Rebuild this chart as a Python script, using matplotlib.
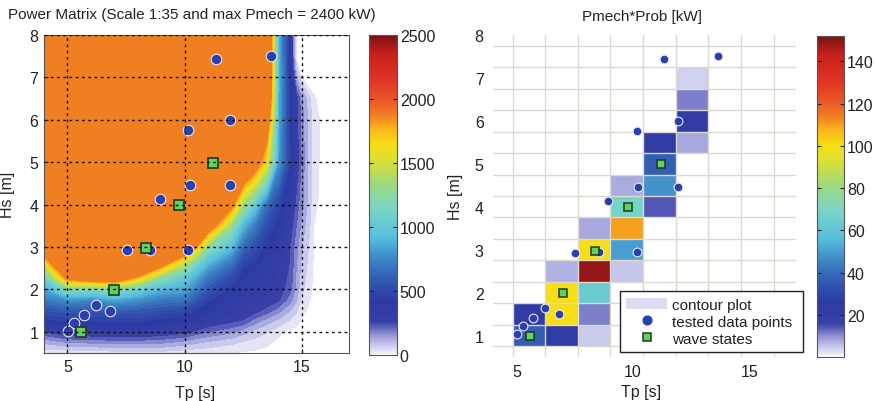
import numpy as np
import matplotlib
matplotlib.use("Agg")
import matplotlib.pyplot as plt
from matplotlib.colors import LinearSegmentedColormap, Normalize
from matplotlib.cm import ScalarMappable
from matplotlib.patches import Patch
from matplotlib.lines import Line2D

plt.rcParams['font.family'] = ['Liberation Sans', 'DejaVu Sans']

# ---------------- data: power matrix (kW) ----------------
tp_grid = [4, 5, 6, 7, 8, 9, 10, 11, 12, 12.5, 13, 13.5, 14, 14.5, 14.75, 15, 15.5, 16, 17]
hs_grid = [0.5, 0.75, 1.0, 1.25, 1.5, 1.75, 2.0, 2.25, 2.5, 2.75, 3.0, 3.5, 4.0, 5.0, 6.0, 6.5, 7.0, 7.5, 8.0]
power_matrix = [
    [15, 10, 15, 25, 30, 30, 15, 10, 10, 5, 3, 2, 0, 0, 0, 0, 0, 0, 0],
    [110, 150, 160, 170, 170, 160, 130, 90, 60, 45, 30, 15, 5, 0, 0, 0, 0, 0, 0],
    [250, 300, 310, 320, 320, 300, 270, 200, 160, 120, 80, 55, 15, 0, 0, 0, 0, 0, 0],
    [420, 450, 440, 460, 450, 420, 380, 300, 260, 240, 170, 120, 80, 40, 20, 5, 0, 0, 0],
    [550, 580, 560, 600, 580, 540, 500, 380, 320, 300, 270, 230, 170, 100, 60, 15, 0, 0, 0],
    [700, 780, 760, 850, 780, 700, 680, 460, 370, 330, 300, 290, 255, 170, 110, 30, 0, 0, 0],
    [850, 1200, 1150, 1250, 1050, 900, 850, 560, 420, 360, 330, 310, 280, 215, 130, 60, 0, 0, 0],
    [1000, 1880, 2050, 2100, 1700, 1200, 1000, 680, 500, 400, 360, 330, 290, 230, 140, 70, 0, 0, 0],
    [1350, 2400, 2400, 2400, 2400, 1750, 1250, 820, 620, 450, 400, 350, 300, 240, 150, 80, 3, 0, 0],
    [1800, 2400, 2400, 2400, 2400, 2400, 1700, 1000, 760, 530, 460, 380, 320, 245, 160, 90, 5, 0, 0],
    [2400, 2400, 2400, 2400, 2400, 2400, 2400, 1250, 920, 640, 530, 420, 330, 240, 170, 100, 5, 0, 0],
    [2400, 2400, 2400, 2400, 2400, 2400, 2400, 2100, 1300, 900, 700, 520, 400, 280, 200, 130, 10, 0, 0],
    [2400, 2400, 2400, 2400, 2400, 2400, 2400, 2400, 1950, 1350, 1000, 650, 480, 320, 230, 160, 15, 0, 0],
    [2400, 2400, 2400, 2400, 2400, 2400, 2400, 2400, 2400, 2400, 2100, 1600, 800, 450, 300, 180, 18, 0, 0],
    [2400, 2400, 2400, 2400, 2400, 2400, 2400, 2400, 2400, 2400, 2400, 2100, 850, 420, 270, 170, 20, 0, 0],
    [2400, 2400, 2400, 2400, 2400, 2400, 2400, 2400, 2400, 2400, 2400, 2400, 850, 420, 280, 150, 12, 0, 0],
    [2400, 2400, 2400, 2400, 2400, 2400, 2400, 2400, 2400, 2400, 2400, 2400, 900, 400, 120, 8, 0, 0, 0],
    [2400, 2400, 2400, 2400, 2400, 2400, 2400, 2400, 2400, 2400, 2400, 2400, 900, 350, 0, 0, 0, 0, 0],
    [2400, 2400, 2400, 2400, 2400, 2400, 2400, 2400, 2400, 2400, 2400, 2400, 900, 350, 0, 0, 0, 0, 0],
]

# ---------------- data: tested points and wave states ----------------
tested_tp = [11.31, 13.66, 11.92, 10.15, 10.22, 11.92, 8.93, 7.52, 8.52, 10.15, 6.22, 5.72, 6.81, 5.29, 5.01]
tested_hs = [7.43, 7.50, 5.99, 5.76, 4.47, 4.47, 4.13, 2.93, 2.94, 2.94, 1.63, 1.40, 1.50, 1.21, 1.03]
wave_tp = [5.58, 7.00, 8.35, 9.77, 11.19]
wave_hs = [1.00, 1.98, 2.98, 3.99, 4.99]

# ---------------- data: Pmech*Prob bins (kW), 0 = empty ----------------
bin_tp_edges = [4.83, 6.22, 7.62, 9.02, 10.42, 11.83, 13.23, 14.64, 16.04]
bin_hs_edges = [0.75, 1.25, 1.75, 2.25, 2.75, 3.25, 3.75, 4.25, 4.75, 5.25, 5.75, 6.25, 6.75, 7.25, 7.75]
prob_power = [
    [36, 22, 4.5, 0, 0, 0, 0, 0],     # Hs 1.0
    [22, 100, 11, 0, 0, 0, 0, 0],     # Hs 1.5
    [0, 100, 63, 0, 0, 0, 0, 0],      # Hs 2.0
    [0, 7, 149, 5, 0, 0, 0, 0],       # Hs 2.5
    [0, 0, 100, 50, 0, 0, 0, 0],      # Hs 3.0
    [0, 0, 8, 110, 0, 0, 0, 0],       # Hs 3.5
    [0, 0, 0, 68, 14, 0, 0, 0],       # Hs 4.0
    [0, 0, 0, 7.5, 48, 0, 0, 0],      # Hs 4.5
    [0, 0, 0, 0, 36, 0, 0, 0],        # Hs 5.0
    [0, 0, 0, 0, 22, 8, 0, 0],        # Hs 5.5
    [0, 0, 0, 0, 0, 22, 0, 0],        # Hs 6.0
    [0, 0, 0, 0, 0, 11, 0, 0],        # Hs 6.5
    [0, 0, 0, 0, 0, 4, 0, 0],         # Hs 7.0
    [0, 0, 0, 0, 0, 0, 0, 0],         # Hs 7.5
]

# ---------------- colormap (white -> lavender -> blue -> cyan -> yellow -> red) ----------------
cmap_nodes = [
    (0.000, '#ffffff'), (0.010, '#e6e6f6'), (0.024, '#d2d2f0'), (0.042, '#b6b6e4'),
    (0.062, '#9496d4'), (0.084, '#6366bf'), (0.104, '#3840a6'), (0.168, '#2b3aa2'),
    (0.228, '#3256b0'), (0.300, '#3c86c6'), (0.368, '#58bedd'), (0.460, '#7cd6c4'),
    (0.540, '#a2d97a'), (0.600, '#d4df3c'), (0.660, '#f8de14'), (0.712, '#f9b21c'),
    (0.748, '#f08022'), (0.800, '#ea5526'), (0.860, '#e03424'), (0.940, '#c8201c'),
    (1.000, '#7c1212'),
]
cmap = LinearSegmentedColormap.from_list('wjet', cmap_nodes, N=512)
cmap_over = cmap.copy()
cmap_over.set_over('#f07f22')

text_col = '#222222'
blue = '#2c3fae'
green = '#5fd35f'

fig = plt.figure(figsize=(8.77, 4.02), dpi=100)
ax1 = fig.add_axes([0.0502, 0.1194, 0.3478, 0.791])
cax1 = fig.add_axes([0.4208, 0.1144, 0.0319, 0.796])
ax2 = fig.add_axes([0.5626, 0.1095, 0.345, 0.801])
cax2 = fig.add_axes([0.9312, 0.1095, 0.0315, 0.7985])

# ---------------- left: power matrix contour ----------------
TP, HS = np.meshgrid(tp_grid, hs_grid)
P = np.array(power_matrix, dtype=float)
levels = [10] + list(range(50, 1901, 50))
norm1 = Normalize(0, 2500)
ax1.contourf(TP, HS, P, levels=levels, cmap=cmap_over, norm=norm1, extend='max', zorder=1)
ax1.plot(tested_tp, tested_hs, 'o', ls='none', ms=7.6, mfc=blue, mec='#e4e4ee', mew=0.8, zorder=2)
ax1.plot(wave_tp, wave_hs, 's', ls='none', ms=7.5, mfc=green, mec='#1e3a1e', mew=1.2, zorder=2)
ax1.set_xlim(4, 17)
ax1.set_ylim(0.5, 8)
ax1.set_xticks([5, 10, 15])
ax1.set_yticks([1, 2, 3, 4, 5, 6, 7, 8])
ax1.set_axisbelow(False)
ax1.grid(True, color='#111111', linestyle=(0, (2, 2.5)), linewidth=1.0)
ax1.tick_params(direction='in', length=3, labelsize=11.5, colors=text_col, pad=4)
for s in ax1.spines.values():
    s.set_color('#555555')
    s.set_linewidth(0.8)
ax1.set_xlabel('Tp [s]', fontsize=11.5, color=text_col)
ax1.set_ylabel('Hs [m]', fontsize=11.5, color=text_col)
ax1.xaxis.set_label_coords(0.495, -0.1)
ax1.yaxis.set_label_coords(-0.095, 0.5)
fig.text(0.009, 0.962, 'Power Matrix (Scale 1:35 and max Pmech = 2400 kW)',
         fontsize=11, color=text_col, ha='left', va='center')

cb1 = fig.colorbar(ScalarMappable(norm=norm1, cmap=cmap), cax=cax1,
                   ticks=[0, 500, 1000, 1500, 2000, 2500])
cax1.tick_params(axis='y', direction='in', left=True, right=True, length=3,
                 labelsize=11.5, colors=text_col, pad=2)
cb1.outline.set_linewidth(0.8)
cb1.outline.set_edgecolor('#555555')

# ---------------- right: Pmech*Prob cells ----------------
PP = np.ma.masked_equal(np.array(prob_power, dtype=float), 0)
norm2 = Normalize(0, 152)
ax2.pcolormesh(bin_tp_edges, bin_hs_edges, PP, cmap=cmap, norm=norm2, zorder=1)
ax2.set_xlim(4, 17)
ax2.set_ylim(0.5, 8)
ax2.set_xticks([5, 10, 15])
ax2.set_yticks([1, 2, 3, 4, 5, 6, 7, 8])
ax2.set_xticks(bin_tp_edges, minor=True)
ax2.set_yticks(bin_hs_edges, minor=True)
ax2.set_axisbelow(False)
ax2.grid(False, which='major')
ax2.grid(True, which='minor', color='#dcd9d0', linewidth=1.0)
ax2.tick_params(which='both', length=0, labelsize=11.5, colors=text_col)
ax2.tick_params(axis='y', pad=7)
ax2.tick_params(axis='x', pad=5)
for s in ax2.spines.values():
    s.set_visible(False)
ax2.plot(tested_tp, tested_hs, 'o', ls='none', ms=6.3, mfc=blue, mec='#e8e8f0', mew=0.8, zorder=3)
ax2.plot(wave_tp, wave_hs, 's', ls='none', ms=6, mfc=green, mec='#1e3a1e', mew=1.1, zorder=3)
ax2.set_xlabel('Tp [s]', fontsize=11.5, color=text_col)
ax2.set_ylabel('Hs [m]', fontsize=11.5, color=text_col)
ax2.xaxis.set_label_coords(0.489, -0.085)
ax2.yaxis.set_label_coords(-0.10, 0.5)
fig.text(0.732, 0.958, 'Pmech*Prob [kW]', fontsize=11, color=text_col, ha='center', va='center')

handles = [
    Patch(facecolor='#dcdcf2', edgecolor='none'),
    Line2D([], [], marker='o', ls='none', ms=6.3, mfc=blue, mec=blue),
    Line2D([], [], marker='s', ls='none', ms=6, mfc=green, mec='#1e3a1e', mew=1.1),
]
leg = ax2.legend(handles, ['contour plot', 'tested data points', 'wave states'],
                 loc='lower left', bbox_to_anchor=(0.418, 0.016, 0.605, 0.204), mode='expand',
                 fontsize=11, frameon=True, fancybox=False, framealpha=1,
                 handlelength=2.7, handletextpad=0.3, borderpad=0.4, labelspacing=0.2,
                 borderaxespad=0)
leg.get_frame().set_edgecolor('#222222')
leg.get_frame().set_linewidth(1.0)
for t in leg.get_texts():
    t.set_color(text_col)
leg.set_zorder(5)

cb2 = fig.colorbar(ScalarMappable(norm=norm2, cmap=cmap), cax=cax2,
                   ticks=[20, 40, 60, 80, 100, 120, 140])
cax2.tick_params(axis='y', direction='in', left=True, right=True, length=3,
                 labelsize=11.5, colors=text_col, pad=2)
cb2.outline.set_linewidth(0.8)
cb2.outline.set_edgecolor('#555555')

fig.savefig('out.png', dpi=100)
